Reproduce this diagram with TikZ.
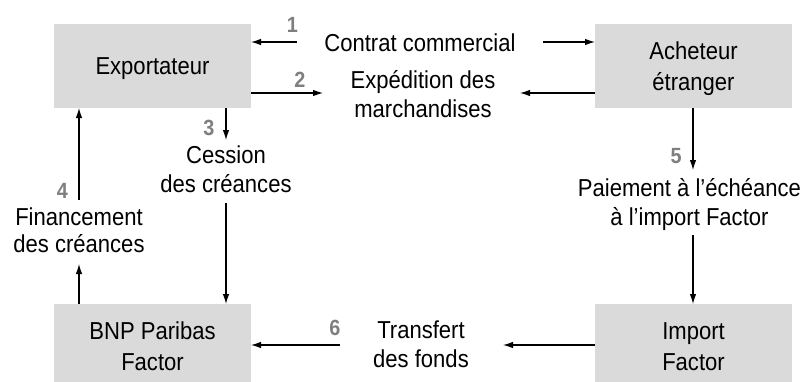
\documentclass[tikz,border=0pt]{standalone}
\usepackage{fontspec}
\setmainfont{Liberation Sans}[FakeStretch=0.9]
\usetikzlibrary{arrows.meta}
\definecolor{boxgray}{HTML}{DADADA}
\definecolor{numgray}{HTML}{7F7F7F}
\newcommand\txtT[2][29bp]{{\fontsize{24.5bp}{#1}\selectfont\begin{tabular}[t]{@{}c@{}}#2\end{tabular}}}
\newcommand\txtB[2][31bp]{{\fontsize{24.5bp}{#1}\selectfont\begin{tabular}[b]{@{}c@{}}#2\end{tabular}}}
\begin{document}
\begin{tikzpicture}[x=1bp,y=-1bp,
  box/.style={fill=boxgray, minimum width=197bp, minimum height=84bp, inner sep=0pt, outer sep=0pt, text depth=0pt},
  lbl/.style={anchor=base, inner sep=0pt},
  num/.style={anchor=base, inner sep=0pt, text=numgray, font=\fontsize{22bp}{22bp}\selectfont\bfseries},
  arr/.style={-{Latex[length=10bp,width=6.5bp]}, line width=1.1bp}]
\useasboundingbox (0,0) rectangle (807,381);
% boxes
\node[box, text height=17.5bp] (exp) at (152.5,66) {\txtB{Exportateur}};
\node[box, text height=48.5bp] (ach) at (693.5,66) {\txtB{Acheteur\\étranger}};
\node[box, text height=48.5bp] (bnp) at (152.5,346) {\txtB{BNP Paribas\\Factor}};
\node[box, text height=48.5bp] (imp) at (693.5,346) {\txtB{Import\\Factor}};
% texts
\node[lbl] (contrat) at (420,51) {\txtT{Contrat commercial}};
\node[lbl] (exped) at (423,88) {\txtT{Expédition des\\marchandises}};
\node[lbl] (cession) at (226,163) {\txtT{Cession\\des créances}};
\node[lbl] (finance) at (79,225) {\txtT[27bp]{Financement\\des créances}};
\node[lbl] (paiement) at (689.5,196) {\txtT{Paiement à l’échéance\\à l’import Factor}};
\node[lbl] (transfert) at (421,338) {\txtT{Transfert\\des fonds}};
% numbers
\node[num] (n1) at (292.5,32) {1};
\node[num] (n2) at (300,87) {2};
\node[num] (n3) at (209,135) {3};
\node[num] (n4) at (62.5,198) {4};
\node[num] (n5) at (676,163) {5};
\node[num] (n6) at (335,335) {6};
% free ends
\coordinate (c1a) at (297,42);
\coordinate (c1b) at (543,42);
\coordinate (c2a) at (323,93);
\coordinate (c2b) at (520,93);
\coordinate (c3a) at (226,140);
\coordinate (c3b) at (226,203);
\coordinate (c4a) at (79,264);
\coordinate (c4b) at (79,200);
\coordinate (c5a) at (693,170);
\coordinate (c5b) at (693,235);
\coordinate (c6a) at (503,345);
\coordinate (c6b) at (340,345);
% arrows
\draw[arr] (c1a) -- (exp.east |- c1a);
\draw[arr] (c1b) -- (ach.west |- c1b);
\draw[arr] (exp.east |- c2a) -- (c2a);
\draw[arr] (ach.west |- c2b) -- (c2b);
\draw[arr] (exp.south -| c3a) -- (c3a);
\draw[arr] (c3b) -- (bnp.north -| c3b);
\draw[arr] (bnp.north -| c4a) -- (c4a);
\draw[arr] (c4b) -- (exp.south -| c4b);
\draw[arr] (ach.south -| c5a) -- (c5a);
\draw[arr] (c5b) -- (imp.north -| c5b);
\draw[arr] (imp.west |- c6a) -- (c6a);
\draw[arr] (c6b) -- (bnp.east |- c6b);
\end{tikzpicture}
\end{document}
